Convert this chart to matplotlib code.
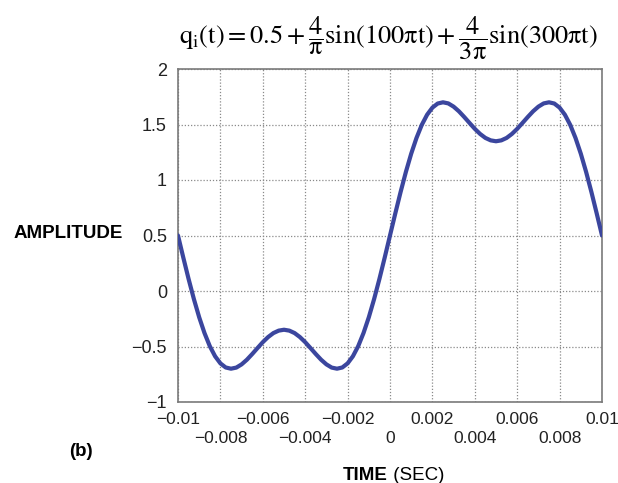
import matplotlib
matplotlib.use("Agg")
import matplotlib.pyplot as plt

# Time samples (s) and amplitude values
time_s = [-0.01, -0.00975, -0.0095, -0.00925, -0.009, -0.00875, -0.0085, -0.00825,
          -0.008, -0.00775, -0.0075, -0.00725, -0.007, -0.00675, -0.0065, -0.00625,
          -0.006, -0.00575, -0.0055, -0.00525, -0.005, -0.00475, -0.0045, -0.00425,
          -0.004, -0.00375, -0.0035, -0.00325, -0.003, -0.00275, -0.0025, -0.00225,
          -0.002, -0.00175, -0.0015, -0.00125, -0.001, -0.00075, -0.0005, -0.00025,
          0.0, 0.00025, 0.0005, 0.00075, 0.001, 0.00125, 0.0015, 0.00175,
          0.002, 0.00225, 0.0025, 0.00275, 0.003, 0.00325, 0.0035, 0.00375,
          0.004, 0.00425, 0.0045, 0.00475, 0.005, 0.00525, 0.0055, 0.00575,
          0.006, 0.00625, 0.0065, 0.00675, 0.007, 0.00725, 0.0075, 0.00775,
          0.008, 0.00825, 0.0085, 0.00875, 0.009, 0.00925, 0.0095, 0.00975, 0.01]
amplitude = [0.5, 0.301, 0.108, -0.073, -0.237, -0.379, -0.497, -0.588,
             -0.652, -0.689, -0.700, -0.690, -0.661, -0.619, -0.568, -0.514,
             -0.461, -0.415, -0.379, -0.357, -0.349, -0.357, -0.379, -0.415,
             -0.461, -0.514, -0.568, -0.619, -0.661, -0.690, -0.700, -0.689,
             -0.652, -0.588, -0.497, -0.379, -0.237, -0.073, 0.108, 0.301,
             0.5, 0.699, 0.892, 1.073, 1.237, 1.379, 1.497, 1.588,
             1.652, 1.689, 1.700, 1.690, 1.661, 1.619, 1.568, 1.514,
             1.461, 1.415, 1.379, 1.357, 1.349, 1.357, 1.379, 1.415,
             1.461, 1.514, 1.568, 1.619, 1.661, 1.690, 1.700, 1.689,
             1.652, 1.588, 1.497, 1.379, 1.237, 1.073, 0.892, 0.699, 0.5]

x_ticks_row1 = [-0.01, -0.006, -0.002, 0.002, 0.006, 0.01]
x_labels_row1 = ["\u22120.01", "\u22120.006", "\u22120.002", "0.002", "0.006", "0.01"]
x_ticks_row2 = [-0.008, -0.004, 0.0, 0.004, 0.008]
x_labels_row2 = ["\u22120.008", "\u22120.004", "0", "0.004", "0.008"]
y_ticks = [-1, -0.5, 0, 0.5, 1, 1.5, 2]
y_tick_labels = ["\u22121", "\u22120.5", "0", "0.5", "1", "1.5", "2"]

plt.rcParams['font.family'] = ['Liberation Sans', 'DejaVu Sans']
plt.rcParams['mathtext.fontset'] = 'stix'

fig = plt.figure(figsize=(6.18, 4.83), dpi=100)
W, H = 618, 483
left, right, top, bottom = 178, 602, 69, 402
ax = fig.add_axes([left / W, 1 - bottom / H, (right - left) / W, (bottom - top) / H])

ax.plot(time_s, amplitude, color='#3b469e', lw=3.0, solid_capstyle='round', zorder=3)
ax.set_xlim(-0.01, 0.01)
ax.set_ylim(-1, 2)
ax.set_xticks(x_ticks_row1)
ax.set_xticklabels(x_labels_row1)
ax.set_xticks(x_ticks_row2, minor=True)
ax.set_xticklabels(x_labels_row2, minor=True)
ax.set_yticks(y_ticks)
ax.set_yticklabels(y_tick_labels)
ax.grid(True, which='both', linestyle=(0, (1, 1.5)), color='#8a8a8a', lw=0.9)
for s in ax.spines.values():
    s.set_color('#7a7a7a')
    s.set_linewidth(1.2)
ax.tick_params(which='both', direction='in', length=0, labelsize=12.5, colors='#222222')
ax.tick_params(axis='x', which='major', pad=7)
ax.tick_params(axis='x', which='minor', pad=21)
ax.tick_params(axis='y', pad=8, labelsize=13)

fig.text(14 / W, 1 - 234 / H, "AMPLITUDE", fontsize=13.5, fontweight='bold', ha='left', va='center')
fig.text(81 / W, 1 - 451 / H, "(b)", fontsize=13.5, fontweight='bold', ha='center', va='center')
fig.text(388 / W, 1 - 475 / H, "TIME", fontsize=13.5, fontweight='bold', ha='right', va='center')
fig.text(388 / W, 1 - 475 / H, " (SEC)", fontsize=13.5, ha='left', va='center')

title = (r"$\mathrm{q_{i}}\left(\mathrm{t}\right)=0.5+\dfrac{4}{\mathrm{\pi}}\mathrm{sin}\left(100\mathrm{\pi t}\right)"
         r"+\dfrac{4}{3\mathrm{\pi}}\mathrm{sin}\left(300\mathrm{\pi t}\right)$")
fig.text(388 / W, 1 - 38 / H, title, fontsize=19, ha='center', va='center')

fig.savefig("out.png", dpi=100)
